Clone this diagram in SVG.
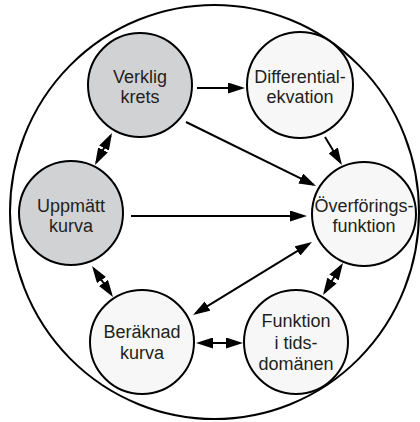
<svg xmlns="http://www.w3.org/2000/svg" width="420" height="422" viewBox="0 0 420 422">
  <style>
    .node { stroke: #000; stroke-width: 2; }
    .grey { fill: #d1d2d4; }
    .light { fill: #f7f7f7; }
    .label { font-family: "Liberation Sans", Arial, sans-serif; font-size: 18px; fill: #231f20; text-anchor: middle; }
    .edge { stroke: #000; stroke-width: 2; fill: none; }
  </style>
  <defs>
    <marker id="head" markerUnits="userSpaceOnUse" markerWidth="17" markerHeight="11" refX="14" refY="5.5" orient="auto-start-reverse" viewBox="0 0 17 11">
      <path d="M0,0 L17,5.5 L0,11 z" fill="#000"/>
    </marker>
  </defs>

  <rect width="420" height="422" fill="#fff"/>

  <!-- enclosing boundary -->
  <ellipse cx="214.5" cy="212" rx="204.5" ry="207" fill="none" stroke="#000" stroke-width="2"/>

  <g id="connectors">
    <line class="edge" x1="197" y1="88" x2="242" y2="88" marker-end="url(#head)"/>
    <line class="edge" x1="186" y1="122" x2="313.3" y2="184.7" marker-end="url(#head)"/>
    <line class="edge" x1="325" y1="137" x2="340.4" y2="162.4" marker-end="url(#head)"/>
    <line class="edge" x1="131" y1="216" x2="304" y2="216" marker-end="url(#head)"/>
    <line class="edge" x1="195.6" y1="313.4" x2="309.4" y2="243.6" marker-start="url(#head)" marker-end="url(#head)"/>
    <line class="edge" x1="199" y1="343" x2="240" y2="343" marker-start="url(#head)" marker-end="url(#head)"/>
    <line class="edge" x1="96.4" y1="162.3" x2="110.6" y2="135.7" marker-start="url(#head)" marker-end="url(#head)"/>
    <line class="edge" x1="93.7" y1="268.5" x2="111.3" y2="294.5" marker-start="url(#head)" marker-end="url(#head)"/>
    <line class="edge" x1="341.4" y1="265.5" x2="324.6" y2="292.5" marker-start="url(#head)" marker-end="url(#head)"/>
  </g>

  <g id="verklig-krets">
    <circle class="node grey" cx="140" cy="85" r="52"/>
    <text class="label" x="140" y="83">Verklig</text>
    <text class="label" x="140" y="103">krets</text>
  </g>

  <g id="differentialekvation">
    <circle class="node light" cx="300" cy="85" r="53"/>
    <text class="label" x="300" y="83">Differential-</text>
    <text class="label" x="300" y="103">ekvation</text>
  </g>

  <g id="overforingsfunktion">
    <circle class="node light" cx="364" cy="214" r="52"/>
    <text class="label" x="364" y="212">Överförings-</text>
    <text class="label" x="364" y="232">funktion</text>
  </g>

  <g id="uppmatt-kurva">
    <circle class="node grey" cx="71" cy="213" r="52"/>
    <text class="label" x="71" y="212">Uppmätt</text>
    <text class="label" x="71" y="232">kurva</text>
  </g>

  <g id="beraknad-kurva">
    <circle class="node light" cx="142" cy="342" r="52"/>
    <text class="label" x="142" y="338">Beräknad</text>
    <text class="label" x="142" y="359">kurva</text>
  </g>

  <g id="funktion-tidsdomanen">
    <circle class="node light" cx="296" cy="342" r="52"/>
    <text class="label" x="296" y="327">Funktion</text>
    <text class="label" x="296" y="349">i tids-</text>
    <text class="label" x="296" y="370">domänen</text>
  </g>
</svg>
